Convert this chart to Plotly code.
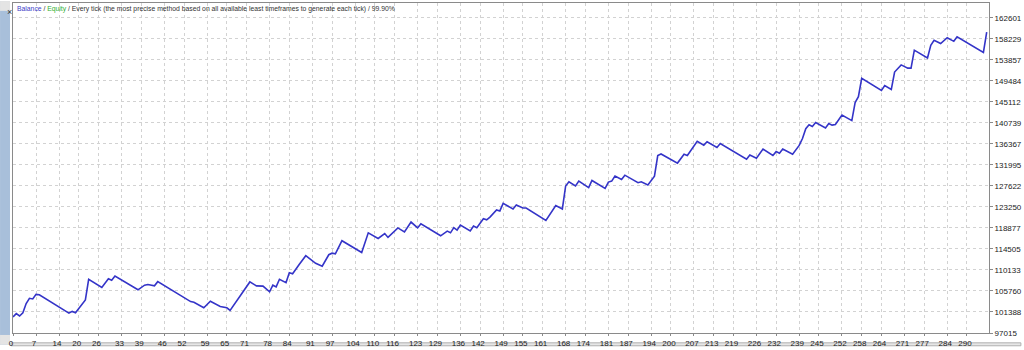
import plotly.graph_objects as go

# ---- data ----
trade = [0, 1, 2, 3, 4, 5, 6, 7, 8, 17, 18, 19, 22, 23, 27, 29, 30, 31, 38, 40, 41, 42, 43, 44,
         54, 55, 58, 60, 63, 65, 66, 72, 74, 76, 78, 79, 80, 81, 83, 84, 85, 87, 89, 92, 94,
         96, 97, 98, 100, 106, 108, 111, 113, 114, 117, 119, 121, 123, 124, 130, 132, 133,
         134, 135, 136, 139, 140, 141, 143, 144, 145, 147, 148, 149, 152, 153, 155, 156, 162,
         165, 167, 168, 169, 171, 172, 175, 176, 180, 181, 182, 183, 185, 186, 190, 191, 193,
         195, 196, 197, 202, 204, 205, 208, 210, 211, 214, 215, 223, 224, 226, 228, 231, 232,
         233, 234, 237, 239, 240, 241, 242, 243, 244, 247, 248, 249, 250, 252, 255, 256, 257,
         258, 264, 265, 267, 268, 270, 272, 273, 274, 278, 279, 280, 282, 284, 286, 287, 295, 296]
balance = [100345, 101040, 100550, 101203, 103144, 104227, 104105, 105045, 104983, 101163,
           101510, 101244, 103900, 108190, 106474, 108313, 107986, 108864, 106004, 106964,
           107087, 106923, 106821, 107700, 103553, 103410, 102266, 103614, 102531, 102266,
           101714, 107639, 106822, 106760, 105596, 106965, 106617, 108190, 107496, 109539,
           109335, 111255, 113093, 111520, 110907, 113298, 113625, 113502, 116219, 113768,
           117854, 116689, 117711, 116893, 118875, 118058, 120101, 118875, 119754, 117241,
           118201, 117854, 118936, 118405, 119488, 118262, 119284, 118936, 120775, 120570,
           121122, 122614, 122409, 123983, 122818, 123635, 123022, 123022, 120448, 123512,
           122818, 127598, 128477, 127598, 128620, 127251, 128743, 127108, 128416, 128620,
           129642, 128947, 129846, 128273, 128477, 127803, 129642, 133932, 134259, 132359,
           134198, 133932, 136915, 136098, 136792, 135628, 136445, 133176, 134055, 133380,
           135281, 133932, 134749, 134402, 135281, 134198, 136036, 137466, 139509, 140327,
           139980, 140797, 139652, 140592, 140265, 140388, 142370, 141205, 144964, 146190,
           149990, 147477, 148499, 147681, 151298, 152789, 152115, 152115, 155853, 154219,
           156875, 157896, 157222, 158448, 157692, 158652, 155384, 159592]

x_tick_labels = [0, 7, 14, 20, 26, 33, 39, 46, 52, 59, 65, 71, 78, 84, 91, 97, 104, 110, 116,
                 123, 129, 136, 142, 149, 155, 161, 168, 174, 181, 187, 194, 200, 207, 213, 219,
                 226, 232, 239, 245, 252, 258, 264, 271, 277, 284, 290]
y_tick_labels = [97015, 101388, 105760, 110133, 114505, 118877, 123250, 127622, 131995,
                 136367, 140739, 145112, 149484, 153857, 158229, 162601]

title_text = ('<span style="color:#4040c8">Balance</span> / '
              '<span style="color:#30b030">Equity</span> / Every tick (the most precise method '
              'based on all available least timeframes to generate each tick) / 99.90%')

# ---- layout geometry ----
W, H = 1024, 350
L, R, T, B = 13, 32, 2, 12
PW, PH = W - L - R, H - T - B


def px2x(px):
    return (px - L) / PW


def py2y(py):
    return (H - B - py) / PH


FONT = "Liberation Sans, Arial, sans-serif"

fig = go.Figure()
fig.add_trace(go.Scatter(x=trade, y=balance, mode="lines",
                         line=dict(color="#3434c8", width=1.6),
                         hoverinfo="skip", showlegend=False))

fig.update_layout(
    width=W, height=H,
    margin=dict(l=L, r=R, t=T, b=B, pad=0),
    paper_bgcolor="white", plot_bgcolor="white",
    font=dict(family=FONT, size=8, color="#222222"),
    showlegend=False,
    xaxis=dict(range=[0, 296.7], tickmode="array", tickvals=x_tick_labels,
               ticktext=[str(v) for v in x_tick_labels],
               showgrid=True, gridcolor="#d2d2d2", griddash="dot", gridwidth=1,
               showline=True, linecolor="#8a8a8a", linewidth=1, mirror=True,
               ticks="outside", ticklen=2, tickcolor="#8a8a8a",
               ticklabelshift=-2, ticklabelstandoff=0,
               tickfont=dict(size=8, family=FONT, color="#222222"),
               zeroline=False, fixedrange=True),
    yaxis=dict(range=[97015, 165666], side="right", tickmode="array",
               tickvals=y_tick_labels, ticktext=[str(v) for v in y_tick_labels],
               showgrid=True, gridcolor="#d2d2d2", griddash="dot", gridwidth=1,
               showline=True, linecolor="#8a8a8a", linewidth=1, mirror=True,
               ticks="outside", ticklen=3, tickcolor="#8a8a8a",
               tickfont=dict(size=8, family=FONT, color="#222222"),
               zeroline=False, fixedrange=True),
)

# left blue strip and window chrome (drawn below labels)
fig.add_shape(type="rect", xref="paper", yref="paper", layer="below",
              x0=px2x(0), x1=px2x(10), y0=py2y(H), y1=py2y(0),
              fillcolor="#a8bfda", line_width=0)
fig.add_shape(type="rect", xref="paper", yref="paper", layer="below",
              x0=px2x(0), x1=px2x(10), y0=py2y(10), y1=py2y(0),
              fillcolor="#e4e4e4", line_width=0)
fig.add_annotation(text="×", xref="paper", yref="paper", x=px2x(5), y=py2y(4.5),
                   showarrow=False, font=dict(size=9, color="#333333", family=FONT))
fig.add_shape(type="rect", xref="paper", yref="paper", layer="below",
              x0=px2x(0), x1=px2x(10), y0=py2y(H), y1=py2y(340),
              fillcolor="#e4e4e4", line_width=0)
# bottom grey bar
fig.add_shape(type="rect", xref="paper", yref="paper", layer="below",
              x0=px2x(11), x1=px2x(W), y0=py2y(H + 1), y1=py2y(348),
              fillcolor="#e6e6e6", line=dict(color="#b0b0b0", width=1))

fig.add_annotation(text=title_text, xref="paper", yref="paper",
                   x=px2x(15), y=py2y(2), xanchor="left", yanchor="top",
                   showarrow=False, font=dict(size=6.8, family=FONT, color="#333333"))

fig.write_html("out.html")
